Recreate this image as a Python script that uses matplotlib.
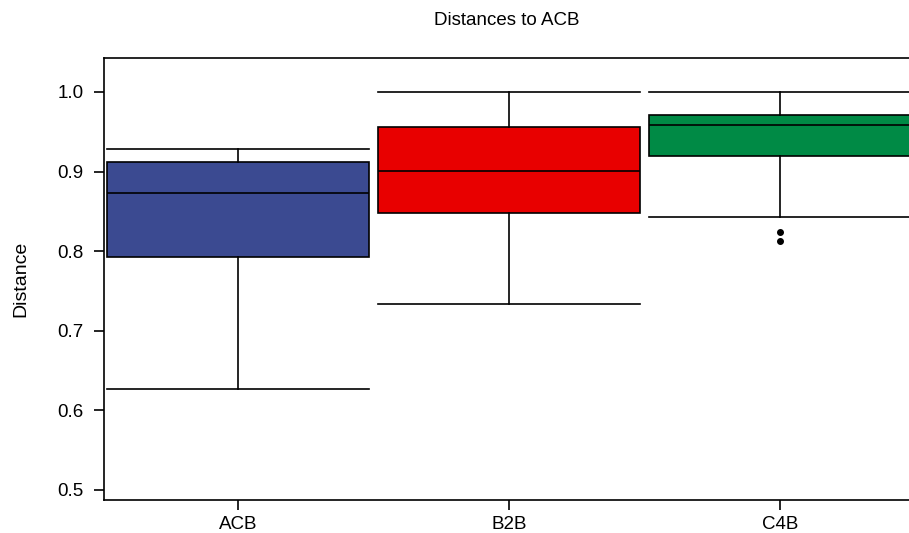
import matplotlib
matplotlib.use('Agg')
import matplotlib.pyplot as plt

plt.rcParams['font.family'] = ['Liberation Sans', 'DejaVu Sans']

# box statistics
groups = ['ACB', 'B2B', 'C4B']
whislo = [0.627, 0.734, 0.843]
q1 = [0.793, 0.848, 0.920]
med = [0.873, 0.901, 0.959]
q3 = [0.912, 0.956, 0.971]
whishi = [0.928, 1.000, 1.000]
fliers = [[], [], [0.824, 0.813]]
colors = ['#3b4a91', '#e80000', '#008a45']


def main():
	stats = []
	for i, g in enumerate(groups):
		stats.append({
			'label': g, 'whislo': whislo[i], 'q1': q1[i], 'med': med[i],
			'q3': q3[i], 'whishi': whishi[i], 'fliers': fliers[i],
		})

	fig = plt.figure(figsize=(9.09, 5.33), dpi=100)
	ax = fig.add_axes([104 / 909, 33 / 533, 1 - 104 / 909, 442 / 533])

	bp = ax.bxp(
		stats,
		positions=[1, 2, 3],
		widths=0.965,
		patch_artist=True,
		capwidths=0.965,
		boxprops=dict(linewidth=1.2, edgecolor='black'),
		medianprops=dict(color='black', linewidth=1.2),
		whiskerprops=dict(color='black', linewidth=1.2, linestyle='-'),
		capprops=dict(color='black', linewidth=1.2),
		flierprops=dict(marker='o', markersize=4, markerfacecolor='black',
			markeredgecolor='black'),
	)
	for patch, c in zip(bp['boxes'], colors):
		patch.set_facecolor(c)

	ax.set_xlim(0.505, 3.475)
	ax.set_ylim(0.4874, 1.0427)
	ax.set_yticks([0.5, 0.6, 0.7, 0.8, 0.9, 1.0])
	ax.set_yticklabels(['0.5', '0.6', '0.7', '0.8', '0.9', '1.0'])
	ax.spines['right'].set_visible(False)
	for s in ax.spines.values():
		s.set_linewidth(1.2)
	ax.tick_params(axis='both', direction='out', length=7.5, width=1.2,
		labelsize=13.5)
	ax.tick_params(axis='y', pad=7)
	ax.tick_params(axis='x', pad=4)
	ax.set_ylabel('Distance', fontsize=14, labelpad=20)
	ax.set_title('Distances to ACB', fontsize=13.5, pad=24)

	fig.savefig('out.png', dpi=100)


if __name__ == '__main__':
	main()
